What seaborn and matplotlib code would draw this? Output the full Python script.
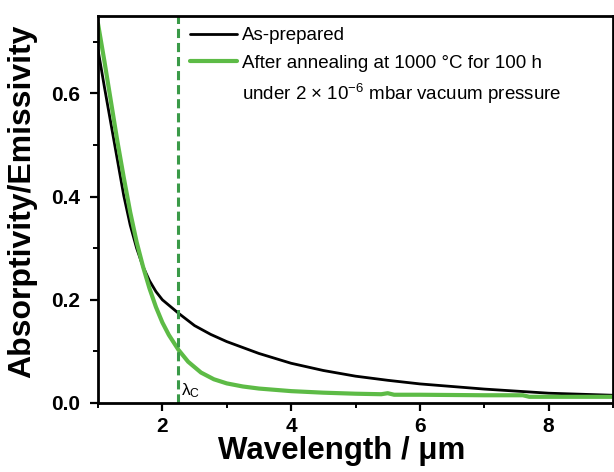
import matplotlib
matplotlib.use("Agg")
import matplotlib.pyplot as plt
from matplotlib.lines import Line2D
import seaborn as sns
import pandas as pd

# ---- data ----
wl_as = [1.0, 1.1, 1.2, 1.3, 1.4, 1.5, 1.6, 1.7, 1.8, 1.9, 2.0, 2.25, 2.5, 2.75,
         3.0, 3.5, 4.0, 4.5, 5.0, 5.5, 6.0, 6.5, 7.0, 7.5, 8.0, 8.5, 9.0]
abs_as = [0.685, 0.612, 0.542, 0.472, 0.402, 0.345, 0.300, 0.264, 0.237, 0.216,
          0.200, 0.174, 0.150, 0.133, 0.119, 0.096, 0.077, 0.063, 0.052, 0.044,
          0.037, 0.032, 0.027, 0.023, 0.019, 0.017, 0.015]

wl_ann = [1.0, 1.1, 1.2, 1.3, 1.4, 1.5, 1.6, 1.7, 1.8, 1.9, 2.0, 2.1, 2.25, 2.4,
          2.6, 2.8, 3.0, 3.25, 3.5, 4.0, 4.5, 5.0, 5.4, 5.5, 5.6, 6.0, 7.0, 7.6,
          7.7, 8.0, 9.0]
abs_ann = [0.735, 0.662, 0.585, 0.508, 0.437, 0.370, 0.312, 0.264, 0.222, 0.186,
           0.156, 0.132, 0.103, 0.080, 0.059, 0.046, 0.038, 0.032, 0.028, 0.023,
           0.020, 0.018, 0.017, 0.019, 0.016, 0.016, 0.015, 0.015, 0.012, 0.012,
           0.012]

lambda_c = 2.25
labels = ["As-prepared",
          "After annealing at 1000 °C for 100 h",
          "under 2 × 10$^{-6}$ mbar vacuum pressure"]
x_ticks = [2, 4, 6, 8]
y_ticks = [0.0, 0.2, 0.4, 0.6]

sns.set_theme(style="ticks")
plt.rcParams["font.family"] = ["Liberation Sans", "DejaVu Sans"]
plt.rcParams["mathtext.fontset"] = "custom"
plt.rcParams["mathtext.rm"] = "Liberation Sans"
plt.rcParams["mathtext.it"] = "Liberation Sans:italic"
plt.rcParams["mathtext.bf"] = "Liberation Sans:bold"
plt.rcParams["text.color"] = "black"
plt.rcParams["axes.labelcolor"] = "black"
plt.rcParams["xtick.color"] = "black"
plt.rcParams["ytick.color"] = "black"

df_as = pd.DataFrame({"wl": wl_as, "a": abs_as})
df_ann = pd.DataFrame({"wl": wl_ann, "a": abs_ann})

fig = plt.figure(figsize=(6.14, 4.72), dpi=100)
ax = fig.add_axes([98 / 614, 1 - 403 / 472, 515 / 614, 387 / 472])

BLACK = "#000000"
GREEN = "#5dbb46"
DGREEN = "#3a9a48"

sns.lineplot(data=df_as, x="wl", y="a", ax=ax, color=BLACK, lw=2.0)
sns.lineplot(data=df_ann, x="wl", y="a", ax=ax, color=GREEN, lw=3.0)
ax.axvline(lambda_c, color=DGREEN, lw=2.2, ls=(0, (3, 1.6)))
ax.text(lambda_c + 0.04, 0.006, "λ$_\\mathrm{C}$", fontsize=12.5, color="black",
        va="bottom", ha="left")

ax.set_xlim(1, 9)
ax.set_ylim(0, 0.75)
ax.set_xticks(x_ticks)
ax.set_yticks(y_ticks)
ax.set_xticks([1, 3, 5, 7, 9], minor=True)
ax.set_yticks([0.1, 0.3, 0.5, 0.7], minor=True)
ax.set_xticklabels([str(t) for t in x_ticks], fontsize=15, fontweight="bold")
ax.set_yticklabels([f"{t:.1f}" for t in y_ticks], fontsize=15, fontweight="bold")
ax.tick_params(axis="x", which="major", direction="out", length=6, width=1.6,
               colors="black", pad=4)
ax.tick_params(axis="y", which="major", direction="out", length=6, width=1.6,
               colors="black", pad=7)
ax.tick_params(axis="both", which="minor", direction="out", length=3.5, width=1.4,
               colors="black")
for s in ax.spines.values():
    s.set_visible(True)
    s.set_linewidth(2.0)
    s.set_color("black")

ax.set_xlabel("Wavelength / μm", fontsize=22.5, fontweight="bold")
ax.set_ylabel("Absorptivity/Emissivity", fontsize=23, fontweight="bold")
ax.xaxis.set_label_coords(0.474, -0.085)
ax.yaxis.set_label_coords(-0.118, 0.52)

handles = [Line2D([], [], color=BLACK, lw=2.0),
           Line2D([], [], color=GREEN, lw=3.0),
           Line2D([], [], color="none", lw=0)]
leg = ax.legend(handles, labels, loc="upper left", bbox_to_anchor=(0.165, 0.99),
                frameon=False, fontsize=13.5, handlelength=2.5, handletextpad=0.25,
                labelspacing=0.55, borderaxespad=0)
for t in leg.get_texts():
    t.set_color("black")

fig.savefig("out.png", dpi=100)
